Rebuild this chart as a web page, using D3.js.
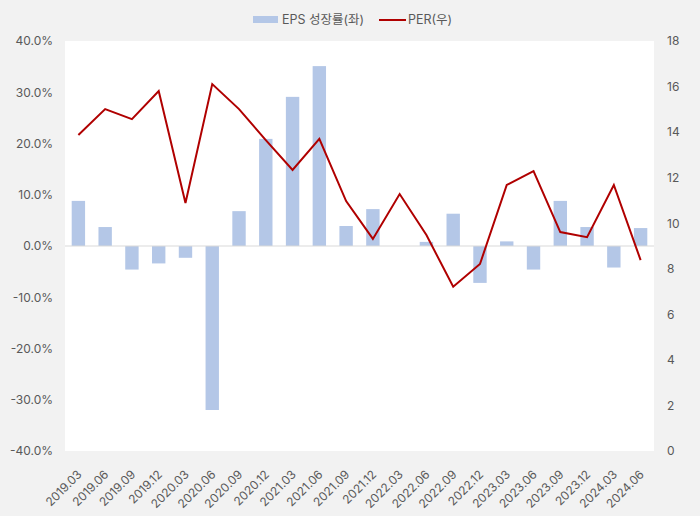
<!DOCTYPE html>
<html><head><meta charset="utf-8">
<script src="https://cdn.jsdelivr.net/npm/d3@7"></script>
<style>
html,body{margin:0;padding:0;background:#f2f2f2;}
svg{display:block;font-family:Inter,"Noto Sans CJK KR",sans-serif;}
</style></head>
<body><svg id="c" width="700" height="516"></svg>
<script>
const categories = ["2019.03","2019.06","2019.09","2019.12","2020.03","2020.06","2020.09","2020.12","2021.03","2021.06","2021.09","2021.12","2022.03","2022.06","2022.09","2022.12","2023.03","2023.06","2023.09","2023.12","2024.03","2024.06"];
const epsGrowth = [8.8,3.7,-4.6,-3.4,-2.3,-32.0,6.8,20.9,29.1,35.1,3.9,7.2,0.0,0.8,6.3,-7.2,0.9,-4.6,8.8,3.7,-4.2,3.5];
const per = [13.87,15.01,14.57,15.80,10.89,16.11,15.01,13.65,12.34,13.70,10.97,9.31,11.28,9.48,7.21,8.21,11.68,12.29,9.61,9.39,11.68,8.38];
const leftTicks = [-40,-30,-20,-10,0,10,20,30,40];
const rightTicks = [0,2,4,6,8,10,12,14,16,18];
const seriesNames = ["EPS 성장률(좌)","PER(우)"];

const svg = d3.select("#c");
const m = {l:65, r:654, t:41, b:451};
const x = d3.scaleBand().domain(categories).range([m.l, m.r]).paddingInner(0.5).paddingOuter(0.25);
const yL = d3.scaleLinear().domain([-40,40]).range([m.b, m.t]);
const yR = d3.scaleLinear().domain([0,18]).range([m.b, m.t]);

svg.append("rect").attr("x",m.l).attr("y",m.t).attr("width",m.r-m.l).attr("height",m.b-m.t).attr("fill","#fff");

// bars
svg.append("g").selectAll("rect").data(epsGrowth).join("rect")
  .attr("x",(d,i)=>x(categories[i]))
  .attr("width",x.bandwidth())
  .attr("y",d=>yL(Math.max(0,d)))
  .attr("height",d=>Math.abs(yL(d)-yL(0)))
  .attr("fill","#b4c7e7");

// zero line
svg.append("line").attr("x1",m.l).attr("x2",m.r).attr("y1",yL(0)).attr("y2",yL(0)).attr("stroke","#d9d9d9").attr("stroke-width",1);

// PER line
const line = d3.line().x((d,i)=>x(categories[i])+x.bandwidth()/2).y(d=>yR(d));
svg.append("path").datum(per).attr("d",line).attr("fill","none").attr("stroke","#b00000").attr("stroke-width",2).attr("stroke-linejoin","miter");

// left axis
const gl = svg.append("g").attr("transform",`translate(${m.l},0)`)
  .call(d3.axisLeft(yL).tickValues(leftTicks).tickFormat(d=>d.toFixed(1)+"%").tickSize(0).tickPadding(12));
gl.select(".domain").remove();
gl.selectAll("text").attr("font-size",12).attr("fill","#595959").attr("font-family",'Inter,"Noto Sans CJK KR",sans-serif');

// right axis
const gr = svg.append("g").attr("transform",`translate(${m.r},0)`)
  .call(d3.axisRight(yR).tickValues(rightTicks).tickSize(0).tickPadding(13));
gr.select(".domain").remove();
gr.selectAll("text").attr("font-size",12).attr("fill","#595959").attr("font-family",'Inter,"Noto Sans CJK KR",sans-serif');

// x axis
const gx = svg.append("g").attr("transform",`translate(0,${m.b})`)
  .call(d3.axisBottom(x).tickSize(0).tickPadding(6));
gx.select(".domain").remove();
gx.selectAll("text").attr("font-size",12).attr("fill","#595959").attr("font-family",'Inter,"Noto Sans CJK KR",sans-serif')
  .attr("text-anchor","end").attr("dy","0.35em")
  .attr("transform","translate(-3,17) rotate(-45)");

// legend
const lg = svg.append("g").attr("font-size",12.5).attr("fill","#595959");
lg.append("rect").attr("x",253).attr("y",16).attr("width",25).attr("height",7).attr("fill","#b4c7e7");
lg.append("text").attr("x",282).attr("y",24).attr("fill","#595959").text(seriesNames[0]);
lg.append("line").attr("x1",379).attr("x2",406).attr("y1",20).attr("y2",20).attr("stroke","#b00000").attr("stroke-width",2);
lg.append("text").attr("x",408).attr("y",24).attr("fill","#595959").text(seriesNames[1]);
</script></body></html>
